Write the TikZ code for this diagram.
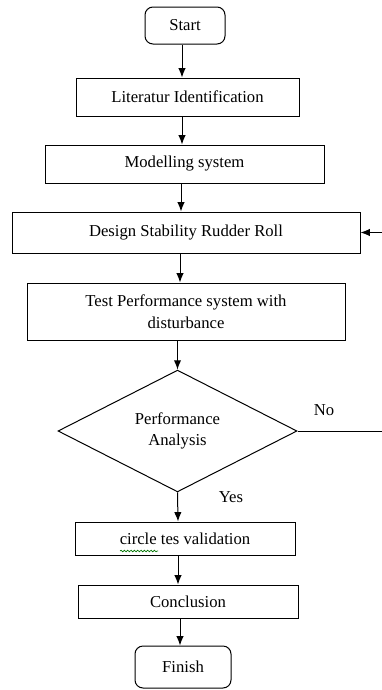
\documentclass[tikz,border=0pt]{standalone}
\usepackage{fontspec}
\setmainfont{Liberation Serif}
\usetikzlibrary{shapes.geometric,arrows.meta,decorations.pathmorphing}

\tikzset{every picture/.style={line width=0.75pt}}
\tikzset{
  procbox/.style={draw, rectangle, inner sep=0.75pt, align=center, font=\fontsize{12.5}{16.5}\selectfont},
  termbox/.style={draw, rectangle, rounded corners=6pt, inner sep=0.75pt, font=\fontsize{12.5}{16}\selectfont},
  decbox/.style={draw, diamond, inner sep=0pt, align=center, font=\fontsize{12.5}{16}\selectfont},
  flow/.style={-{Latex[length=7pt,width=5.5pt]}},
}

\begin{document}
\begin{tikzpicture}[x=0.75pt,y=0.75pt,yscale=-1,xscale=1]
%set diagram left start at 0, and has height of 690
\useasboundingbox (0,0) rectangle (382,690);

% Terminal
\node [termbox, minimum width=60pt, minimum height=27.75pt] (start) at (185,25.5) {Start};
% Process boxes
\node [procbox, minimum width=167.25pt, minimum height=28.5pt] (lit) at (187.5,97) {Literatur Identification};
\node [procbox, minimum width=209.25pt, minimum height=28.5pt] (model) at (184.5,164) {Modelling system};
\node [procbox, minimum width=261pt, minimum height=30.75pt] (design) at (186,232.5) {Design Stability Rudder Roll};
\node [procbox, minimum width=238.5pt, minimum height=42.75pt] (test) at (186,311.5) {Test Performance system with\\disturbance};
% Decision
\node [decbox, minimum width=179.25pt, minimum height=90.75pt] (perf) at (177.5,431) {Performance\\Analysis};
% Process boxes
\node [procbox, minimum width=165pt, minimum height=24.75pt] (valid) at (185,538.5) {circle tes validation};
\node [procbox, minimum width=165pt, minimum height=24.75pt] (concl) at (188,601.5) {Conclusion};
% Terminal
\node [termbox, minimum width=72pt, minimum height=31.5pt] (finish) at (183,667) {Finish};

% Text Node
\node [font=\fontsize{12.5}{14}\selectfont] (no) at (324,410) {No};
% Text Node
\node [font=\fontsize{12.5}{14}\selectfont] (yes) at (231,497) {Yes};

% spelling squiggle
\draw [green!45!black, line width=0.5pt, decorate, decoration={snake, amplitude=0.6pt, segment length=2.5pt}] (120,551) -- (158,551);

%Straight Lines
\coordinate (c1) at (182,0);
\coordinate (c2) at (181,0);
\coordinate (c3) at (180,0);
\coordinate (c4) at (178,0);
\draw [flow] (c1 |- start.south) -- (c1 |- lit.north);
\draw [flow] (c1 |- lit.south) -- (c1 |- model.north);
\draw [flow] (c2 |- model.south) -- (c2 |- design.north);
\draw [flow] (c3 |- design.south) -- (c3 |- test.north);
\draw [flow] (perf.north |- test.south) -- (perf.north);
\draw [flow] (perf.south) -- (c4 |- valid.north);
\draw [flow] (c4 |- valid.south) -- (c4 |- concl.north);
\draw [flow] (c3 |- concl.south) -- (c3 |- finish.north);

% loop back
\coordinate (back) at (384,431);
\draw [flow] (perf.east) -- (back) -- (back |- design.east) -- (design.east);

\end{tikzpicture}
\end{document}
